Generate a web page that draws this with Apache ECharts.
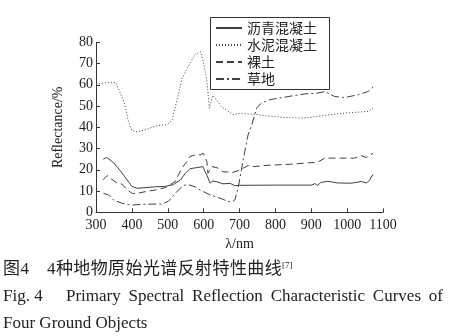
<!DOCTYPE html>
<html>
<head>
<meta charset="utf-8">
<script src="https://cdn.jsdelivr.net/npm/echarts@6/dist/echarts.min.js"></script>
<style>
  html, body { margin: 0; padding: 0; background: #fff; }
  #wrap { position: relative; width: 452px; height: 336px; overflow: hidden; }
  #chart { position: absolute; left: 0; top: 0; width: 452px; height: 336px; }
  .cap { position: absolute; color: #222; white-space: nowrap; }
  .cn { font-family: "Liberation Serif", "Noto Sans CJK SC", serif; font-size: 17px; line-height: 17px; letter-spacing: 0.4px; }
  .en { font-family: "Liberation Serif", serif; font-size: 17px; line-height: 20px; }
  .just { text-align: justify; text-align-last: justify; white-space: normal; }
  sup { font-size: 9px; vertical-align: top; position: relative; top: -3px; letter-spacing: 0; }
</style>
</head>
<body>
<div id="wrap">
  <div id="chart"></div>
  <div class="cap cn" style="left:3px; top:260px;">图4</div>
  <div class="cap cn" style="left:47px; top:260px;">4种地物原始光谱反射特性曲线<sup>[7]</sup></div>
  <div class="cap en" style="left:3px; top:286px;">Fig. 4</div>
  <div class="cap en just" style="left:66px; top:286px; width:377px;">Primary Spectral Reflection Characteristic Curves of</div>
  <div class="cap en" style="left:3px; top:313px;">Four Ground Objects</div>
</div>
<script>
// Reflectance spectra (wavelength nm, reflectance %) of four ground objects
const seriesNames = ['沥青混凝土', '水泥混凝土', '裸土', '草地'];

const asphalt = [
  [320, 25], [330, 25.8], [350, 23.2], [368, 19.5], [387, 15.2], [400, 12.2],
  [415, 11.3], [437, 11.6], [465, 12], [493, 12.2], [515, 13], [535, 15.2],
  [549, 18.3], [562, 20.5], [580, 21], [598, 21.5], [603, 19.5], [609, 17.5],
  [618, 13.7], [626, 14.8], [640, 14.2], [654, 13.4], [674, 13.6], [687, 12.5],
  [700, 12.7], [800, 12.8], [900, 12.8], [910, 13.5], [918, 12.6], [926, 14],
  [946, 14.6], [974, 13.8], [1012, 13.7], [1040, 14.5], [1054, 13.8],
  [1062, 15], [1072, 17.8]
];

const cement = [
  [308, 60.5], [330, 61], [355, 61], [368, 56], [380, 51], [390, 43],
  [400, 38.5], [415, 37.8], [440, 39], [465, 40.5], [500, 41.5], [512, 43.5],
  [526, 53], [540, 63], [555, 68], [575, 74], [585, 75], [592, 75.5],
  [600, 70], [609, 62], [616, 49], [620, 48.5], [626, 55], [635, 53],
  [651, 49.5], [682, 46], [700, 46.5], [750, 46], [795, 45], [840, 44.5],
  [887, 44.4], [932, 45.5], [980, 46.5], [1035, 47.2], [1060, 47.5], [1072, 49]
];

const bareSoil = [
  [320, 15.3], [331, 17.3], [340, 16], [359, 13.7], [373, 13.2], [387, 10.5],
  [401, 8.9], [414, 8.9], [437, 9.7], [465, 10.5], [493, 11.6], [521, 14.5],
  [539, 20.7], [553, 23.8], [562, 26.3], [576, 27], [590, 27], [599, 27.8],
  [609, 23.9], [612, 18.4], [623, 21.5], [637, 21], [654, 19.1], [682, 18.8],
  [701, 19.9], [724, 22], [743, 21.5], [765, 22], [840, 22.6], [918, 23.6],
  [938, 25.5], [1021, 25.5], [1039, 26.7], [1053, 25.8], [1062, 26.7], [1072, 27.8]
];

const grass = [
  [321, 8.9], [335, 8.2], [349, 5.8], [373, 4.2], [401, 3.4], [437, 3.8],
  [484, 3.9], [501, 5.1], [521, 8.9], [539, 12], [553, 13.2], [576, 12],
  [590, 10.5], [618, 8.2], [646, 6.6], [664, 5.4], [678, 4.7], [687, 5.8],
  [697, 12], [711, 25.5], [724, 36.5], [734, 41], [748, 49.2], [762, 51.5],
  [785, 53], [840, 54.6], [882, 55.7], [914, 56], [938, 56.8], [965, 54.5],
  [993, 54], [1030, 55.3], [1058, 56.8], [1072, 59]
];

const xTicks = { min: 300, max: 1100, step: 100 };
const yTicks = { min: 0, max: 80, step: 10 };

const lineColor = '#404040';
const serif = 'Liberation Serif';
const dashStyles = ['solid', [1, 2], [7, 4], [8, 3, 2, 3]];
const dataSets = [asphalt, cement, bareSoil, grass];

const chart = echarts.init(document.getElementById('chart'), null, { renderer: 'canvas' });

const axisCommon = {
  axisLine: { show: true, lineStyle: { color: '#333', width: 1 } },
  axisTick: { show: true, inside: true, length: 4, lineStyle: { color: '#333' } },
  splitLine: { show: false },
  axisLabel: { color: '#222', fontFamily: serif, fontSize: 14, formatter: v => String(v) },
  nameTextStyle: { color: '#222', fontFamily: serif, fontSize: 14 }
};

chart.setOption({
  backgroundColor: '#fff',
  animation: false,
  grid: { left: 96, right: 69, top: 42.3, bottom: 123.7, containLabel: false },
  // frame around the legend
  graphic: [{
    type: 'rect',
    z: 100,
    shape: { x: 210.5, y: 17.5, width: 119, height: 72 },
    style: { fill: '#fff', stroke: '#333', lineWidth: 1 }
  }],
  legend: {
    orient: 'vertical',
    left: 210,
    top: 17,
    z: 110,
    padding: [4, 10, 3, 5],
    itemGap: 3,
    itemWidth: 26,
    itemHeight: 14,
    itemStyle: { opacity: 0 },
    textStyle: { color: '#222', fontFamily: 'Noto Sans CJK SC', fontSize: 14 },
    data: seriesNames
  },
  xAxis: Object.assign({}, axisCommon, {
    type: 'value',
    min: xTicks.min, max: xTicks.max, interval: xTicks.step,
    name: 'λ/nm', nameLocation: 'middle', nameGap: 25,
    axisLabel: Object.assign({}, axisCommon.axisLabel, { margin: 6 })
  }),
  yAxis: Object.assign({}, axisCommon, {
    type: 'value',
    min: yTicks.min, max: yTicks.max, interval: yTicks.step,
    name: 'Reflectance/%', nameLocation: 'middle', nameGap: 31,
    axisLabel: Object.assign({}, axisCommon.axisLabel, { margin: 3 })
  }),
  series: seriesNames.map((name, i) => ({
    name: name,
    type: 'line',
    data: dataSets[i],
    symbol: 'none',
    smooth: false,
    z: 2,
    lineStyle: { color: lineColor, width: 1, type: dashStyles[i] },
    itemStyle: { color: lineColor }
  }))
});
</script>
</body>
</html>
